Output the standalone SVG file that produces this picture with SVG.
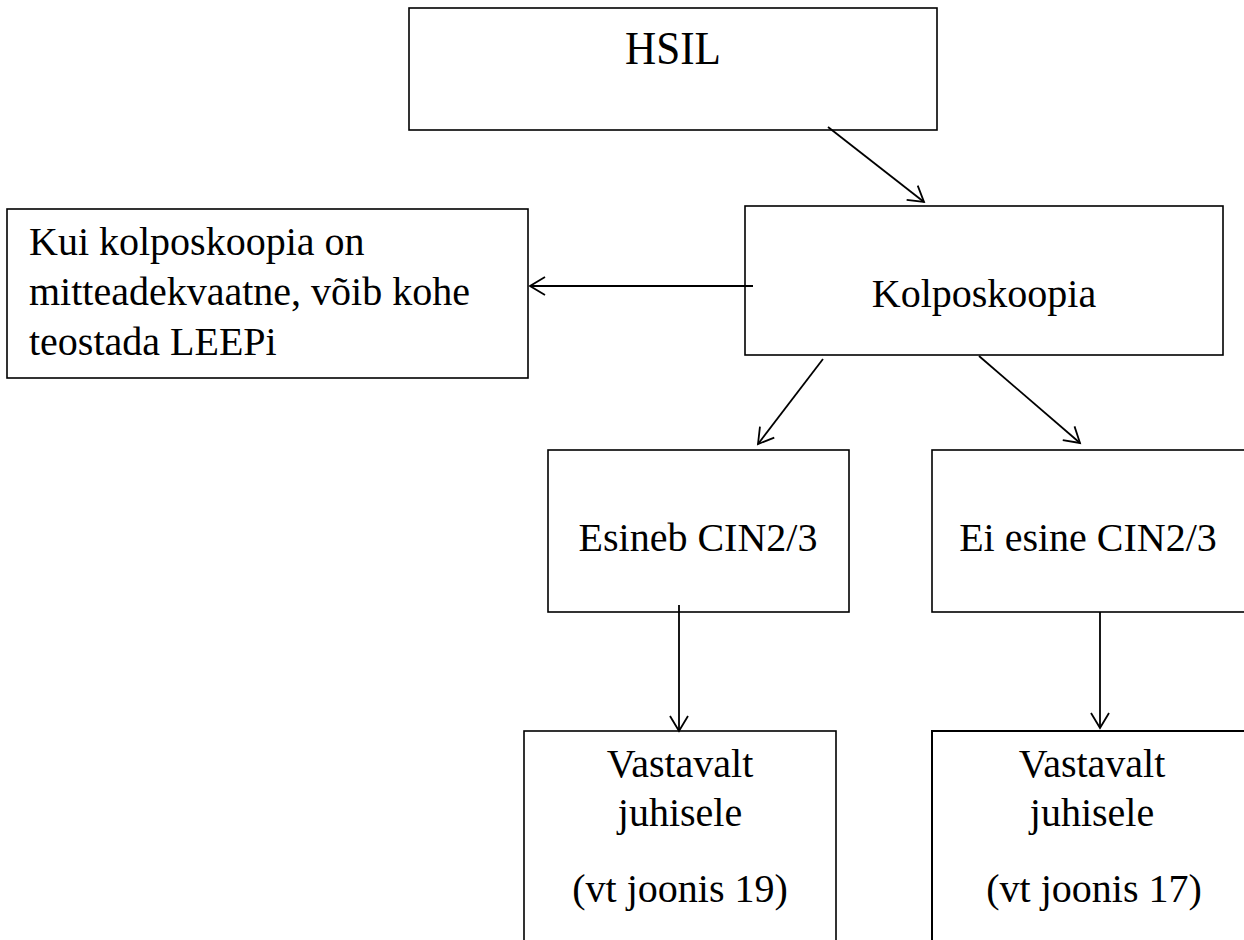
<svg xmlns="http://www.w3.org/2000/svg" width="1244" height="940" viewBox="0 0 1244 940">
<defs>
<marker id="arr" markerUnits="userSpaceOnUse" markerWidth="24" markerHeight="24" viewBox="-16 -12 20 24" refX="0" refY="0" orient="auto">
<path d="M-15,-9 L0,0 L-15,9" fill="none" stroke="#000" stroke-width="1.8"/>
</marker>
<style>
.box{fill:#fff;stroke:#000;stroke-width:1.6}
.t{font-family:"Liberation Serif","DejaVu Serif",serif;font-size:40px;fill:#000}
.c{text-anchor:middle}
.ln{stroke:#000;stroke-width:1.8;fill:none;marker-end:url(#arr)}
</style>
</defs>
<rect width="1244" height="940" fill="#fff"/>
<g id="hsil">
<rect class="box" x="409" y="8" width="528" height="122"/>
<text class="t c" x="673" y="64" style="font-size:47px" textLength="96" lengthAdjust="spacingAndGlyphs">HSIL</text>
</g>
<g id="kolposkoopia">
<rect class="box" x="745" y="206" width="478" height="149"/>
<text class="t c" x="984" y="307">Kolposkoopia</text>
</g>
<g id="leep">
<rect class="box" x="7" y="209" width="521" height="169"/>
<text class="t" x="29" y="255">Kui kolposkoopia on</text>
<text class="t" x="29" y="305">mitteadekvaatne, võib kohe</text>
<text class="t" x="29" y="355">teostada LEEPi</text>
</g>
<g id="esineb">
<rect class="box" x="548" y="450" width="301" height="162"/>
<text class="t c" x="698" y="551">Esineb CIN2/3</text>
</g>
<g id="eiesine">
<rect class="box" x="932" y="450" width="320" height="162"/>
<text class="t c" x="1088" y="551">Ei esine CIN2/3</text>
</g>
<g id="juhis19">
<rect class="box" x="524" y="731" width="312" height="230"/>
<text class="t c" x="680" y="777">Vastavalt</text>
<text class="t c" x="680" y="826">juhisele</text>
<text class="t c" x="680" y="902">(vt joonis 19)</text>
</g>
<g id="juhis17">
<rect class="box" x="932" y="731" width="330" height="230" style="stroke-width:2"/>
<text class="t c" x="1092" y="777">Vastavalt</text>
<text class="t c" x="1092" y="826">juhisele</text>
<text class="t c" x="1094" y="902">(vt joonis 17)</text>
</g>
<g id="connectors">
<line class="ln" x1="828" y1="127" x2="924" y2="202"/>
<line class="ln" x1="753" y1="286" x2="530" y2="286"/>
<line class="ln" x1="823" y1="359" x2="758" y2="444"/>
<line class="ln" x1="979" y1="356" x2="1080" y2="443"/>
<line class="ln" x1="679" y1="605" x2="679" y2="731"/>
<line class="ln" x1="1100" y1="612" x2="1100" y2="728"/>
</g>
</svg>
